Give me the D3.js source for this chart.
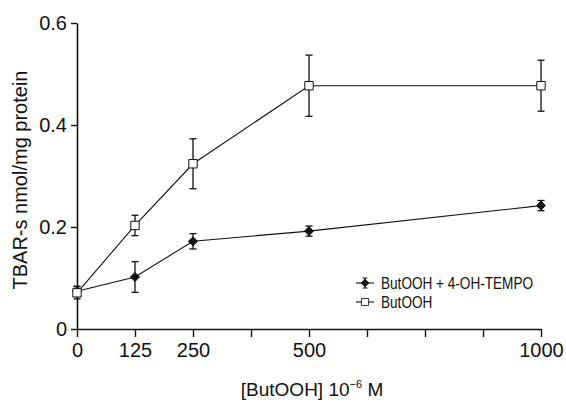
<!DOCTYPE html>
<html>
<head>
<meta charset="utf-8">
<script src="https://cdn.jsdelivr.net/npm/d3@7"></script>
<style>
  body { margin: 0; background: #fff; }
  svg text { font-family: "Liberation Sans", Arial, sans-serif; fill: #111; }
</style>
</head>
<body>
<svg width="566" height="402"></svg>
<script>
// concentrations of ButOOH (10^-6 M)
var doses = [0, 125, 250, 500, 1000];
var xLabelled = [0, 125, 250, 500, 1000];
var xMinor = [375, 625, 750, 875];
var yTicks = [0, 0.2, 0.4, 0.6];

// TBAR-s nmol/mg protein, mean and error
var butoohMean = [0.071, 0.203, 0.324, 0.477, 0.477];
var butoohErr = [0.012, 0.020, 0.049, 0.060, 0.050];
var tempoMean = [0.074, 0.102, 0.172, 0.192, 0.242];
var tempoErr = [0.010, 0.030, 0.015, 0.010, 0.010];

var seriesNames = ["ButOOH + 4-OH-TEMPO", "ButOOH"];

var svg = d3.select("svg");
var x = d3.scaleLinear().domain([0, 1000]).range([77, 541]);
var y = d3.scaleLinear().domain([0, 0.6]).range([329, 23]);

// axes
var xAxis = svg.append("g").attr("transform", "translate(0," + y(0) + ")")
  .call(d3.axisBottom(x).tickValues(xLabelled.concat(xMinor).sort(d3.ascending))
    .tickSize(8).tickSizeOuter(0)
    .tickFormat(function(d) { return xLabelled.indexOf(d) >= 0 ? d : ""; }));
var yAxis = svg.append("g").attr("transform", "translate(" + x(0) + ",0)")
  .call(d3.axisLeft(y).tickValues(yTicks).tickSize(6).tickSizeOuter(0)
    .tickFormat(function(d) { return d === 0 ? "0" : d3.format(".1f")(d); }));

[xAxis, yAxis].forEach(function(a) {
  a.select(".domain").attr("stroke", "#111").attr("stroke-width", 1.6);
  a.selectAll(".tick line").attr("stroke", "#111").attr("stroke-width", 1.4);
  a.selectAll(".tick text").style("font-size", "20px").style("font-family", "Liberation Sans").attr("fill", "#111");
});
xAxis.selectAll(".tick text").attr("y", 14).attr("dy", "0.71em");
yAxis.selectAll(".tick text").attr("x", -10);

// axis titles
var xt = svg.append("text").attr("x", 312).attr("y", 396).attr("text-anchor", "middle")
  .style("font-size", "19px");
xt.append("tspan").text("[ButOOH] 10");
xt.append("tspan").text("\u22126").attr("dy", -8).style("font-size", "11px");
xt.append("tspan").text(" M").attr("dy", 8);

svg.append("text").attr("transform", "translate(27,180) rotate(-90)")
  .attr("text-anchor", "middle").style("font-size", "20px")
  .text("TBAR-s nmol/mg protein");

function drawSeries(means, errs, marker) {
  var pts = doses.map(function(d, i) { return { x: d, m: means[i], e: errs[i] }; });
  var g = svg.append("g");
  g.append("path").datum(pts)
    .attr("fill", "none").attr("stroke", "#111").attr("stroke-width", 1.1)
    .attr("d", d3.line().x(function(d) { return x(d.x); }).y(function(d) { return y(d.m); }));
  var eb = g.selectAll(".eb").data(pts).enter().append("g")
    .attr("stroke", "#111").attr("stroke-width", 1.3);
  eb.append("line")
    .attr("x1", function(d) { return x(d.x); }).attr("x2", function(d) { return x(d.x); })
    .attr("y1", function(d) { return y(d.m - d.e); }).attr("y2", function(d) { return y(d.m + d.e); });
  [-1, 1].forEach(function(s) {
    eb.append("line")
      .attr("x1", function(d) { return x(d.x) - 3.5; }).attr("x2", function(d) { return x(d.x) + 3.5; })
      .attr("y1", function(d) { return y(d.m + s * d.e); }).attr("y2", function(d) { return y(d.m + s * d.e); });
  });
  g.selectAll(".mk").data(pts).enter().append("path")
    .attr("transform", function(d) { return "translate(" + x(d.x) + "," + y(d.m) + ")"; })
    .attr("d", marker.path).attr("fill", marker.fill).attr("stroke", "#111").attr("stroke-width", 1);
}

var diamond = { path: "M0,-4.5L4.5,0L0,4.5L-4.5,0Z", fill: "#111" };
var square = { path: "M-4.2,-4.2H4.2V4.2H-4.2Z", fill: "#fff" };

drawSeries(tempoMean, tempoErr, diamond);
drawSeries(butoohMean, butoohErr, square);

// legend
var legend = svg.append("g").attr("transform", "translate(356,283)");
[diamond, square].forEach(function(mk, i) {
  var row = legend.append("g").attr("transform", "translate(0," + (i * 19) + ")");
  row.append("line").attr("x1", 0).attr("x2", 18).attr("stroke", "#111").attr("stroke-width", 1.1);
  if (i === 0) {
    row.append("line").attr("x1", 9).attr("x2", 9).attr("y1", -5).attr("y2", 5).attr("stroke", "#111").attr("stroke-width", 1.2);
    row.append("line").attr("x1", 6.5).attr("x2", 11.5).attr("y1", -5).attr("y2", -5).attr("stroke", "#111");
    row.append("line").attr("x1", 6.5).attr("x2", 11.5).attr("y1", 5).attr("y2", 5).attr("stroke", "#111");
  }
  row.append("path").attr("transform", "translate(9,0) scale(0.85)").attr("d", mk.path)
    .attr("fill", mk.fill).attr("stroke", "#111").attr("stroke-width", 1);
  row.append("text").attr("transform", "translate(25,6) scale(0.85,1)")
    .style("font-size", "16px").text(seriesNames[i]);
});
</script>
</body>
</html>
